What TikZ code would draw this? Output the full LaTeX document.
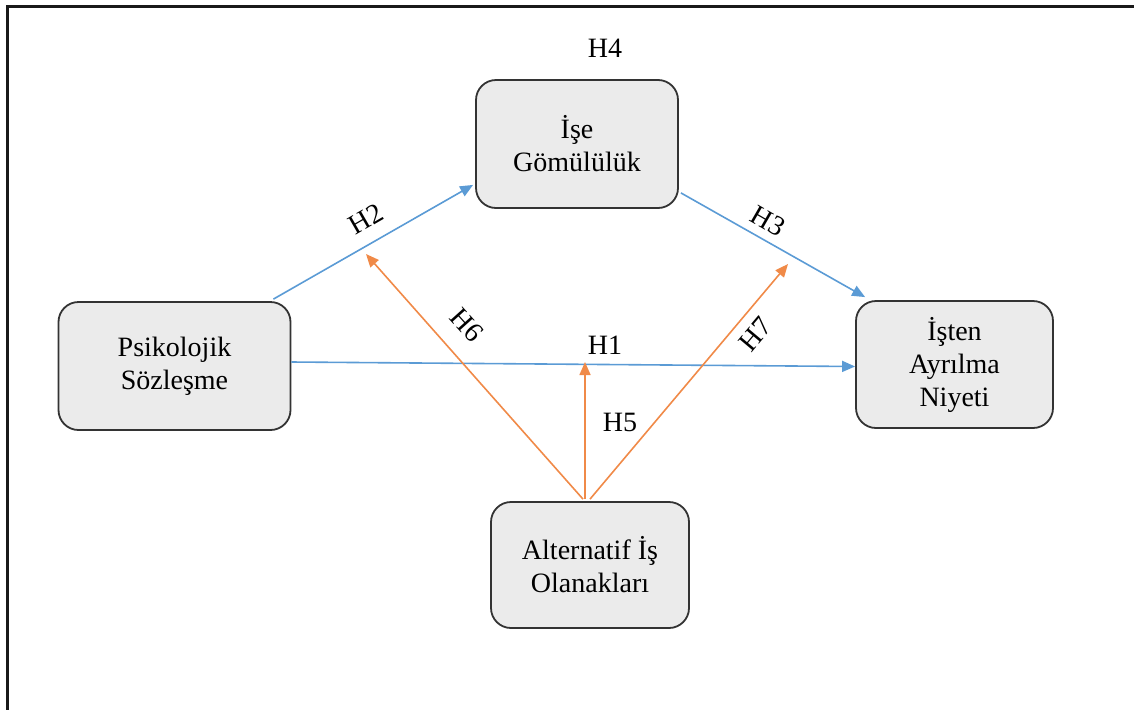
\documentclass[tikz,border=0pt]{standalone}
\usepackage{fontspec}
\setmainfont{Liberation Serif}
\usetikzlibrary{arrows.meta,calc}

\definecolor{linkblue}{HTML}{5B9BD5}
\definecolor{moderator}{HTML}{F08A48}
\definecolor{boxfill}{HTML}{EBEBEB}
\definecolor{boxedge}{HTML}{333333}

\tikzset{
  construct/.style={draw=boxedge, fill=boxfill, line width=1.8pt,
    rounded corners=20pt, align=center, inner sep=0pt,
    font=\rmfamily\fontsize{28}{33}\selectfont},
  hyp/.style={inner sep=0pt, font=\rmfamily\fontsize{28}{33}\selectfont},
  bluelink/.style={draw=linkblue, line width=1.6pt,
    -{Triangle[length=13pt,width=11pt]}},
  orangelink/.style={draw=moderator, line width=1.6pt,
    -{Triangle[length=13pt,width=11pt]}}
}

\begin{document}
\begin{tikzpicture}[x=1pt,y=-1pt]
  \useasboundingbox (0,0) rectangle (1134,710);

  % frame (top and left edges)
  \draw[line width=2.2pt, black!90] (1134,6.5) -- (7.5,6.5) -- (7.5,710);

  % constructs
  \node[construct, minimum width=232pt, minimum height=128pt] (PS) at (174.5,366)
    {Psikolojik\\Sözleşme};
  \node[construct, minimum width=202pt, minimum height=128pt] (IG) at (577,144)
    {İşe\\Gömülülük};
  \node[construct, minimum width=197pt, minimum height=127pt] (IAN) at (954.5,364.5)
    {İşten\\Ayrılma\\Niyeti};
  \node[construct, minimum width=198pt, minimum height=126pt] (AIO) at (590,565)
    {Alternatif İş\\Olanakları};

  % moderation targets on the direct paths
  \coordinate (m1) at (585,362);
  \coordinate (m2) at (366,254);
  \coordinate (m3) at (788,264);

  % direct paths
  \draw[bluelink] ($(PS.east)+(0,-4)$) -- ($(IAN.west)+(0,2)$);
  \draw[bluelink] ($(PS.north east)+(-18,-2)$) -- ($(IG.south west)+(-2,-24)$);
  \draw[bluelink] ($(IG.south east)+(2,-16)$) -- ($(IAN.north west)+(10,-3)$);

  % moderation paths
  \draw[orangelink] ($(AIO.north)+(-5,-2)$) -- (m1);
  \draw[orangelink] ($(AIO.north)+(-7,-2)$) -- (m2);
  \draw[orangelink] ($(AIO.north)+(0,-2)$) -- (m3);

  % hypothesis labels
  \node[hyp] (h1) at (605,345) {H1};
  \node[hyp, rotate=30] (h2) at (366,219) {H2};
  \node[hyp, rotate=-30] (h3) at (768,221) {H3};
  \node[hyp] (h4) at (605,48) {H4};
  \node[hyp] (h5) at (620,422) {H5};
  \node[hyp, rotate=-48] (h6) at (467,325) {H6};
  \node[hyp, rotate=50] (h7) at (755,334) {H7};
\end{tikzpicture}
\end{document}
